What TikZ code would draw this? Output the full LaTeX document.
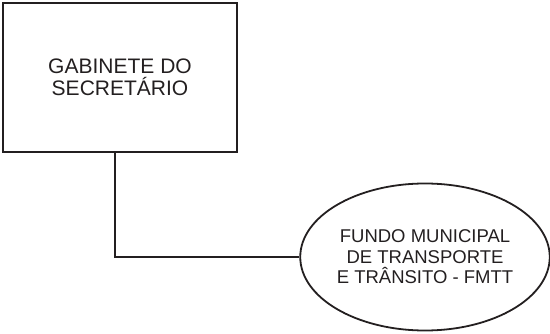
\documentclass[tikz,border=0pt]{standalone}
\usepackage{fontspec}
\setmainfont{Liberation Sans}
\usetikzlibrary{shapes.geometric}
\definecolor{ink}{HTML}{231F20}
\tikzset{
  shp/.style={draw=ink, line width=1.8pt, text=ink, align=center, inner sep=0pt},
  boxnode/.style={shp, rectangle, minimum width=234pt, minimum height=149pt, font=\fontsize{21}{22.5}\selectfont},
  ellnode/.style={shp, ellipse, minimum width=245pt, minimum height=147pt, font=\fontsize{18.5}{20.5}\selectfont},
  conn/.style={draw=ink, line width=1.8pt}
}
\begin{document}
\begin{tikzpicture}[x=1pt,y=1pt]
\useasboundingbox (0,0) rectangle (550,-334);
\node[boxnode] (gab) at (120,-77.5) {GABINETE DO\\SECRETÁRIO};
\node[ellnode] (fmtt) at (425,-257) {FUNDO MUNICIPAL\\DE TRANSPORTE\\E TRÂNSITO - FMTT};
\draw[conn] ([xshift=-5pt]gab.south) |- (fmtt.west);
\end{tikzpicture}
\end{document}
